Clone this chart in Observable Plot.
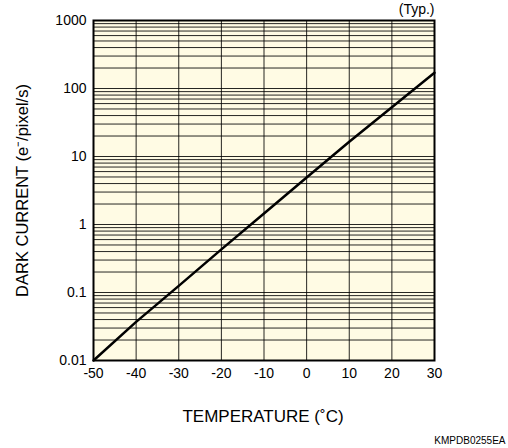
<!DOCTYPE html>
<html>
<head>
<meta charset="utf-8">
<script src="https://cdn.jsdelivr.net/npm/d3@7"></script>
<script src="https://cdn.jsdelivr.net/npm/@observablehq/plot@0.6"></script>
<style>
  html, body { margin: 0; padding: 0; background: #fff; }
  #chart { position: relative; width: 508px; height: 448px; }
</style>
</head>
<body>
<div id="chart"></div>
<script>
const temperatures = [-50, -40, -30, -20, -10, 0, 10, 20, 30];
const darkCurrent = [0.01, 0.037, 0.125, 0.43, 1.45, 4.9, 16.5, 53, 170];
const xTicks = [-50, -40, -30, -20, -10, 0, 10, 20, 30];
const xTickLabels = ["-50", "-40", "-30", "-20", "-10", "0", "10", "20", "30"];
const yTicks = [0.01, 0.1, 1, 10, 100, 1000];
const yTickLabels = ["0.01", "0.1", "1", "10", "100", "1000"];
const decades = [0.01, 0.1, 1, 10, 100];
const multiples = [1, 2, 3, 4, 5, 6, 7, 8, 9];
const xLabel = "TEMPERATURE (˚C)";
const yLabel = "DARK CURRENT (e⁻/pixel/s)";
const noteTop = "(Typ.)";
const noteBottom = "KMPDB0255EA";

const data = temperatures.map((t, i) => ({t, v: darkCurrent[i]}));
const gridY = decades.flatMap(d => multiples.map(m => +(d * m).toPrecision(3))).concat([1000]);
const xLabelMap = new Map(xTicks.map((d, i) => [d, xTickLabels[i]]));
const yLabelMap = new Map(yTicks.map((d, i) => [d, yTickLabels[i]]));

const chart = Plot.plot({
  width: 508,
  height: 448,
  marginLeft: 93,
  marginRight: 74,
  marginTop: 20,
  marginBottom: 88,
  style: {fontFamily: "'Liberation Sans', Arial, sans-serif", fontSize: "14px", color: "#000", background: "transparent"},
  x: {domain: [-50, 30]},
  y: {type: "log", domain: [0.01, 1000]},
  marks: [
    Plot.frame({fill: "#fffbe4", stroke: null}),
    Plot.ruleY(gridY, {stroke: "#000", strokeWidth: 1, strokeOpacity: 0.85}),
    Plot.ruleX(xTicks, {stroke: "#000", strokeWidth: 1, strokeOpacity: 0.85}),
    Plot.frame({stroke: "#000", strokeWidth: 2}),
    Plot.line(data, {x: "t", y: "v", stroke: "#000", strokeWidth: 2.5}),
    Plot.axisX({ticks: xTicks, tickFormat: d => xLabelMap.get(d), tickSize: 0, tickPadding: 8, fontSize: 14, label: null}),
    Plot.axisY({ticks: yTicks, tickFormat: d => yLabelMap.get(d), tickSize: 0, tickPadding: 7, fontSize: 14, label: null}),
    Plot.text([xLabel], {frameAnchor: "bottom", text: d => d, dx: -1, dy: 56, fontSize: 17, textAnchor: "middle", lineAnchor: "middle"}),
    Plot.text([yLabel], {frameAnchor: "left", text: d => d, rotate: -90, dx: -70.5, dy: 0, fontSize: 16.5, textAnchor: "middle", lineAnchor: "middle"}),
    Plot.text([noteTop], {frameAnchor: "top-right", text: d => d, dx: 0, dy: -11, fontSize: 14, textAnchor: "end", lineAnchor: "middle"}),
    Plot.text([noteBottom], {frameAnchor: "bottom-right", text: d => d, dx: 71, dy: 80, fontSize: 10, textAnchor: "end", lineAnchor: "middle"})
  ]
});
document.getElementById("chart").appendChild(chart);
</script>
</body>
</html>
